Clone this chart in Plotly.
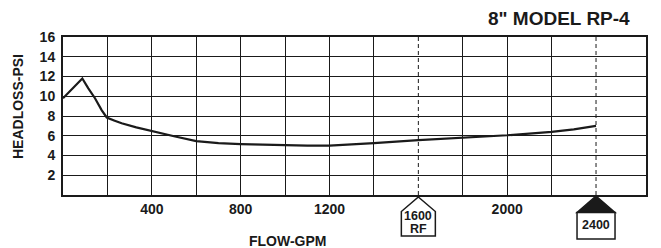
import plotly.graph_objects as go

# ---- data ----
flow_gpm = [0, 87, 114, 144, 174, 197, 230, 264, 330, 400, 500, 600, 700, 800, 900,
            1000, 1100, 1200, 1300, 1400, 1600, 1800, 2000, 2200, 2300, 2400]
headloss_psi = [9.8, 11.8, 10.8, 9.8, 8.6, 7.85, 7.55, 7.26, 6.85, 6.45, 5.95, 5.45, 5.25,
                5.15, 5.08, 5.03, 5.0, 5.0, 5.1, 5.25, 5.55, 5.8, 6.05, 6.4, 6.65, 7.0]

x_grid = [200, 400, 600, 800, 1000, 1200, 1400, 1800, 2000, 2200]
x_labels = {400: "400", 800: "800", 1200: "1200", 2000: "2000"}
y_ticks = [2, 4, 6, 8, 10, 12, 14, 16]
rf_flow = 1600
max_flow = 2400
title = '8" MODEL RP-4'
x_title = "FLOW-GPM"
y_title = "HEADLOSS-PSI"

FONT = "Liberation Sans, Arial, sans-serif"
INK = "#1a1a1a"

fig = go.Figure()
fig.add_trace(go.Scatter(x=flow_gpm, y=headloss_psi, mode="lines",
                         line=dict(color=INK, width=2.2), hoverinfo="skip"))

shapes = []
for xv in (rf_flow, max_flow):
    shapes.append(dict(type="line", xref="x", yref="y", x0=xv, x1=xv, y0=0, y1=16,
                       line=dict(color=INK, width=1, dash="4px,3px")))
# 1600 RF house marker (white)
shapes.append(dict(type="path", xref="x", yref="paper", xsizemode="pixel", ysizemode="pixel",
                   xanchor=rf_flow, yanchor=0,
                   path="M0,-2 L17,-16.5 L17,-41 L-17,-41 L-17,-16.5 Z",
                   fillcolor="white", line=dict(color=INK, width=1.5)))
# 2400 marker: black roof + white box
shapes.append(dict(type="path", xref="x", yref="paper", xsizemode="pixel", ysizemode="pixel",
                   xanchor=max_flow, yanchor=0,
                   path="M0,-1 L19,-17.5 L-19,-17.5 Z",
                   fillcolor=INK, line=dict(color=INK, width=1.5)))
shapes.append(dict(type="path", xref="x", yref="paper", xsizemode="pixel", ysizemode="pixel",
                   xanchor=max_flow, yanchor=0,
                   path="M-19,-17.5 L19,-17.5 L19,-44 L-19,-44 Z",
                   fillcolor="white", line=dict(color=INK, width=1.5)))

PH = 158.0
def py(px_below):
    return -px_below / PH

annotations = [
    dict(text="<b>1600</b>", x=rf_flow, xref="x", y=py(20.5), yref="paper",
         showarrow=False, font=dict(family=FONT, size=12.5, color=INK), yanchor="middle"),
    dict(text="<b>RF</b>", x=rf_flow, xref="x", y=py(33.5), yref="paper",
         showarrow=False, font=dict(family=FONT, size=12.5, color=INK), yanchor="middle"),
    dict(text="<b>2400</b>", x=max_flow, xref="x", y=py(29.7), yref="paper",
         showarrow=False, font=dict(family=FONT, size=12.5, color=INK), yanchor="middle"),
    dict(text="<b>" + x_title + "</b>", x=(287 - 63) / 583, xref="paper", y=py(46), yref="paper",
         showarrow=False, font=dict(family=FONT, size=14, color=INK), yanchor="middle"),
    dict(text="<b>" + y_title + "</b>", x=(18 - 63) / 583, xref="paper", y=(195 - 107) / PH,
         yref="paper", textangle=-90, showarrow=False,
         font=dict(family=FONT, size=14, color=INK), xanchor="center", yanchor="middle"),
    dict(text="<b>" + title + "</b>", x=(632 - 63) / 583, xref="paper", xanchor="right",
         y=1 + 19 / PH, yref="paper", yanchor="middle", showarrow=False,
         font=dict(family=FONT, size=19, color=INK)),
]

fig.update_layout(
    width=661, height=248,
    margin=dict(l=63, r=15, t=37, b=53, pad=0),
    paper_bgcolor="white", plot_bgcolor="white",
    showlegend=False,
    shapes=shapes, annotations=annotations,
    font=dict(family=FONT, color=INK),
)
fig.update_xaxes(range=[0, 2625], tickvals=x_grid,
                 ticktext=[x_labels.get(v, "") for v in x_grid],
                 tickfont=dict(family=FONT, size=14, color=INK, weight="bold"),
                 showgrid=True, gridcolor=INK, gridwidth=1.3, zeroline=False,
                 showline=True, linecolor=INK, linewidth=2, mirror=True, ticks="",
                 ticklabelstandoff=0, fixedrange=True, automargin=False)
fig.update_yaxes(range=[0, 16], tickvals=y_ticks,
                 tickfont=dict(family=FONT, size=14, color=INK, weight="bold"),
                 showgrid=True, gridcolor=INK, gridwidth=1.3, zeroline=False,
                 showline=True, linecolor=INK, linewidth=2, mirror=True, ticks="",
                 ticklabelstandoff=3, fixedrange=True, automargin=False)

fig.write_html("out.html", config={"displayModeBar": False},
               post_script="document.body.style.margin='0';document.body.style.padding='0';")
